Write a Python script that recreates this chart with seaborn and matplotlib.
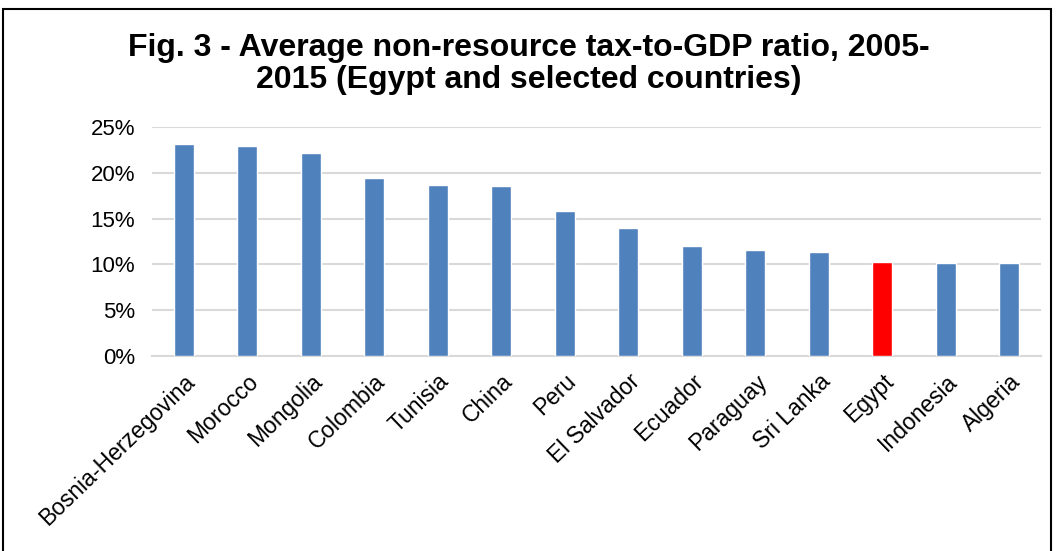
import matplotlib
matplotlib.use("Agg")
import matplotlib.pyplot as plt
import seaborn as sns
import pandas as pd
from matplotlib.patches import Rectangle
from matplotlib.ticker import PercentFormatter

countries = ['Bosnia-Herzegovina', 'Morocco', 'Mongolia', 'Colombia', 'Tunisia', 'China', 'Peru',
             'El Salvador', 'Ecuador', 'Paraguay', 'Sri Lanka', 'Egypt', 'Indonesia', 'Algeria']
ratios = [23.1, 22.9, 22.2, 19.4, 18.7, 18.6, 15.8, 14.0, 12.0, 11.6, 11.4, 10.3, 10.2, 10.2]
highlight = 'Egypt'

df = pd.DataFrame({'country': countries, 'ratio': ratios})
palette = {c: ('#ff0000' if c == highlight else '#4f81bd') for c in countries}

sns.set_style('white', {'text.color': 'black', 'xtick.color': 'black', 'ytick.color': 'black'})
plt.rcParams['font.family'] = ['Liberation Sans', 'DejaVu Sans']

fig = plt.figure(figsize=(10.58, 5.51), dpi=100)
ax = fig.add_axes([152 / 1058, 1 - 356 / 551, (1041 - 152) / 1058, (356 - 127) / 551])

sns.barplot(data=df, x='country', y='ratio', hue='country', palette=palette, saturation=1,
            width=0.31, legend=False, ax=ax, zorder=3)

ax.set_ylim(0, 25)
ax.set_yticks([0, 5, 10, 15, 20, 25])
ax.yaxis.set_major_formatter(PercentFormatter(decimals=0))
ax.grid(axis='y', color='#d9d9d9', linewidth=1.5, zorder=0)
ax.set_xlabel('')
ax.set_ylabel('')
for s in ['top', 'right', 'left']:
    ax.spines[s].set_visible(False)
ax.spines['bottom'].set_color('#d9d9d9')
ax.spines['bottom'].set_linewidth(1.5)
ax.tick_params(axis='y', length=0, labelsize=16, pad=12, labelcolor='black')
ax.tick_params(axis='x', length=0, labelsize=16.5, pad=10, labelcolor='black')
plt.setp(ax.get_xticklabels(), rotation=44, ha='right', rotation_mode='anchor')

fig.text(0.5, 1 - 64 / 551, 'Fig. 3 - Average non-resource tax-to-GDP ratio, 2005-\n2015 (Egypt and selected countries)',
         ha='center', va='center', fontsize=23, fontweight='bold', linespacing=1.1, color='black')

fig.patches.append(Rectangle((3 / 1058, -0.01), 1048 / 1058, 1 - 9 / 551 + 0.01,
                             transform=fig.transFigure, fill=False, edgecolor='black', linewidth=1.5))

fig.savefig('out.png', dpi=100)
